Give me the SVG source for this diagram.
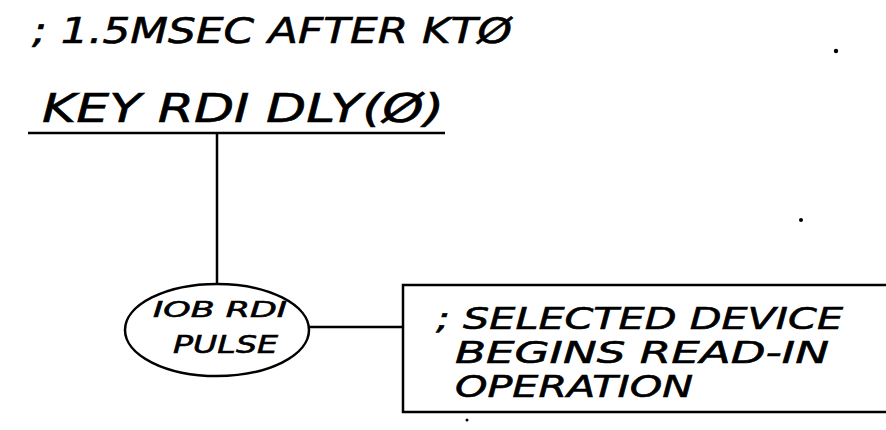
<svg xmlns="http://www.w3.org/2000/svg" width="886" height="430" viewBox="0 0 886 430">
<style>
.t{font-family:"DejaVu Sans","Liberation Sans",sans-serif;font-style:italic;fill:#000;stroke:#000;stroke-width:0.6}
.b{font-size:30px}
.ln{stroke:#000;stroke-width:2.5;fill:none}
</style>
<rect width="886" height="430" fill="#fff"/>
<g id="title">
<text class="t" x="32" y="43" font-size="35" textLength="480" lengthAdjust="spacingAndGlyphs">; 1.5MSEC AFTER KTØ</text>
</g>
<g id="key-rdi-dly">
<text class="t" x="42" y="122" font-size="39" textLength="402" lengthAdjust="spacingAndGlyphs">KEY RDI DLY(Ø)</text>
<line class="ln" x1="28" y1="133" x2="445" y2="133"/>
</g>
<g id="connectors">
<line class="ln" x1="217" y1="133" x2="217" y2="284"/>
<line class="ln" x1="309" y1="327" x2="403" y2="327"/>
</g>
<g id="iob-rdi-pulse">
<ellipse class="ln" cx="217" cy="330" rx="92" ry="46"/>
<text class="t" x="153" y="317" font-size="21" textLength="134" lengthAdjust="spacingAndGlyphs">IOB RDI</text>
<text class="t" x="173" y="353" font-size="24" textLength="105" lengthAdjust="spacingAndGlyphs">PULSE</text>
</g>
<g id="selected-device">
<polyline class="ln" points="886,285 403,285 403,412 886,412"/>
<text class="t b" x="436" y="329" textLength="407" lengthAdjust="spacingAndGlyphs">; SELECTED DEVICE</text>
<text class="t b" x="455" y="363" textLength="374" lengthAdjust="spacingAndGlyphs">BEGINS READ-IN</text>
<text class="t b" x="455" y="397" textLength="238" lengthAdjust="spacingAndGlyphs">OPERATION</text>
</g>
<circle cx="836" cy="51" r="2.2"/>
<circle cx="801" cy="220" r="2"/>
<circle cx="467" cy="420" r="1.5"/>
</svg>
